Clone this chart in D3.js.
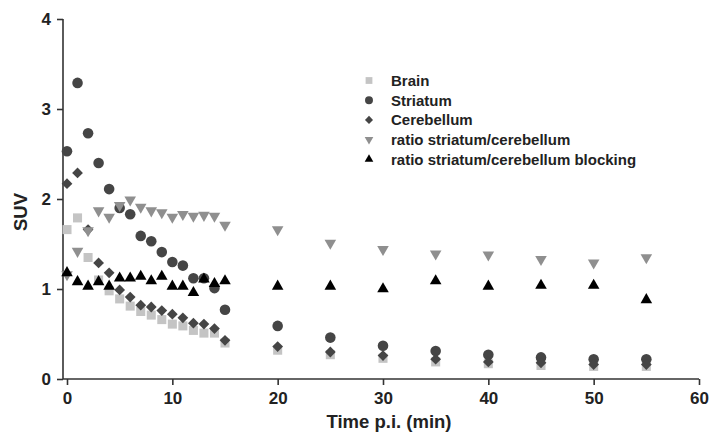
<!DOCTYPE html>
<html>
<head>
<meta charset="utf-8">
<script src="https://cdn.jsdelivr.net/npm/d3@7"></script>
<style>
  body { margin: 0; background: #fff; }
  svg text { font-family: "Liberation Sans", Arial, sans-serif; font-weight: bold; }
</style>
</head>
<body>
<svg id="chart" width="709" height="432"></svg>
<script>
// time points (min p.i.)
var times = [0, 1, 2, 3, 4, 5, 6, 7, 8, 9, 10, 11, 12, 13, 14, 15, 20, 25, 30, 35, 40, 45, 50, 55];

var brain = [1.66, 1.79, 1.35, 1.10, 0.98, 0.89, 0.81, 0.75, 0.71, 0.66, 0.61, 0.59, 0.54, 0.51, 0.51, 0.40,
             0.32, 0.27, 0.23, 0.19, 0.17, 0.15, 0.14, 0.14];
var striatum = [2.53, 3.29, 2.73, 2.40, 2.11, 1.90, 1.83, 1.59, 1.53, 1.41, 1.30, 1.26, 1.12, 1.12, 1.01, 0.77,
                0.59, 0.46, 0.37, 0.31, 0.27, 0.24, 0.22, 0.22];
var cerebellum = [2.17, 2.29, 1.66, 1.29, 1.18, 0.99, 0.91, 0.82, 0.80, 0.76, 0.72, 0.68, 0.62, 0.61, 0.56, 0.43,
                  0.36, 0.30, 0.26, 0.22, 0.19, 0.18, 0.16, 0.16];
var ratio = [1.16, 1.42, 1.65, 1.87, 1.80, 1.93, 1.99, 1.91, 1.87, 1.85, 1.80, 1.83, 1.81, 1.82, 1.81, 1.71,
             1.66, 1.51, 1.44, 1.39, 1.38, 1.33, 1.29, 1.35];
var ratioBlocking = [1.18, 1.08, 1.03, 1.08, 1.03, 1.12, 1.12, 1.14, 1.09, 1.14, 1.03, 1.03, 0.96, 1.11, 1.06, 1.09,
                     1.03, 1.03, 1.00, 1.09, 1.03, 1.04, 1.04, 0.88];

var xTicks = [0, 10, 20, 30, 40, 50, 60];
var yTicks = [0, 1, 2, 3, 4];

var series = [
  { name: "Brain", values: brain, shape: "square", color: "#c4c4c4" },
  { name: "Striatum", values: striatum, shape: "circle", color: "#454545" },
  { name: "Cerebellum", values: cerebellum, shape: "diamond", color: "#454545" },
  { name: "ratio striatum/cerebellum", values: ratio, shape: "down", color: "#8f8f8f" },
  { name: "ratio striatum/cerebellum blocking", values: ratioBlocking, shape: "up", color: "#000000" }
];

var svg = d3.select("#chart");

var x = d3.scaleLinear().domain([0, 60]).range([67, 699]);
var y = d3.scaleLinear().domain([0, 4]).range([379, 19]);
var axisLeftX = 63;

function symbolPath(shape, k) {
  k = k || 1;
  if (shape === "square") return d3.symbol(d3.symbolSquare, 82 * k * k)();
  if (shape === "circle") return d3.symbol(d3.symbolCircle, 88 * k * k)();
  if (shape === "diamond") return d3.symbol(d3.symbolSquare, 58 * k * k)();
  return d3.symbol(d3.symbolTriangle, 58 * k * k)();
}
function symbolRotate(shape) {
  if (shape === "diamond") return 45;
  if (shape === "down") return 180;
  return 0;
}

// axes
var gx = svg.append("g").attr("transform", "translate(0,379)");
gx.call(d3.axisBottom(x).tickValues(xTicks).tickSize(6).tickPadding(7).tickFormat(d3.format("d")));
gx.select(".domain").attr("d", "M" + axisLeftX + ",0H" + x(60));

var gy = svg.append("g").attr("transform", "translate(" + axisLeftX + ",0)");
gy.call(d3.axisLeft(y).tickValues(yTicks).tickSize(6).tickPadding(6).tickFormat(d3.format("d")));
gy.select(".domain").attr("d", "M0," + y(4) + "V" + y(0));

svg.selectAll(".domain, .tick line").attr("stroke", "#333").attr("stroke-width", 1.6);
svg.selectAll(".tick text").attr("font-size", 17).attr("fill", "#222")
  .style("font-family", "'Liberation Sans', Arial, sans-serif").style("font-weight", "bold");

// axis titles
svg.append("text")
  .attr("x", x(30) + 6).attr("y", 428)
  .attr("text-anchor", "middle").attr("font-size", 18.5).attr("fill", "#222")
  .text("Time p.i. (min)");
svg.append("text")
  .attr("transform", "translate(27,212) rotate(-90)")
  .attr("text-anchor", "middle").attr("font-size", 18.5).attr("fill", "#222")
  .text("SUV");

// points
series.forEach(function(s) {
  svg.append("g").selectAll("path")
    .data(s.values)
    .join("path")
    .attr("d", symbolPath(s.shape))
    .attr("transform", function(d, i) {
      return "translate(" + x(times[i]) + "," + y(d) + ") rotate(" + symbolRotate(s.shape) + ")";
    })
    .attr("fill", s.color);
});

// legend
var legend = svg.append("g");
series.forEach(function(s, i) {
  var ly = 80.5 + i * 19.7;
  legend.append("path")
    .attr("d", symbolPath(s.shape, 0.75))
    .attr("transform", "translate(369," + ly + ") rotate(" + symbolRotate(s.shape) + ")")
    .attr("fill", s.color);
  legend.append("text")
    .attr("x", 391).attr("y", ly + 5.5)
    .attr("font-size", 15).attr("fill", "#222")
    .text(s.name);
});
</script>
</body>
</html>
